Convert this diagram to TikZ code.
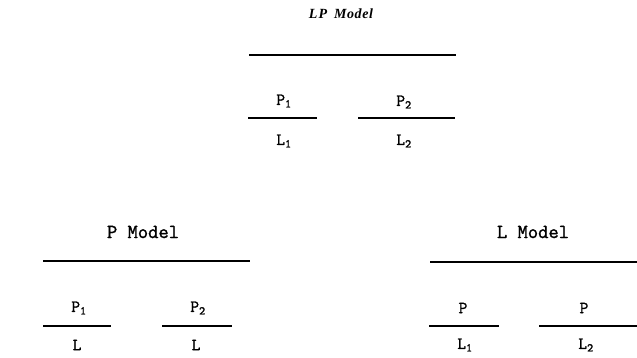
\documentclass[tikz,border=0pt]{standalone}
\usepackage{fontspec}
\newfontfamily\cmono[FakeBold=1.3]{Latin Modern Mono}
\newfontfamily\serifit{Liberation Serif}
\tikzset{
  bar/.style={line width=1.5pt},
  lab/.style={font=\cmono\fontsize{20}{20}\selectfont, inner sep=0pt},
  sym/.style={font=\cmono\fontsize{17}{17}\selectfont, inner sep=0pt},
  ttl/.style={font=\serifit\bfseries\itshape\fontsize{14}{14}\selectfont, inner sep=0pt},
}
\newcommand{\sub}[1]{\textsubscript{#1}}
\begin{document}
\begin{tikzpicture}[x=1pt,y=-1pt]
\useasboundingbox (0,0) rectangle (637,358);
% LP model
\node[ttl] (t1) at (341,14) {L\kern1pt P\ \ M\kern0.6pt o\kern0.6pt d\kern0.6pt e\kern0.6pt l};
\coordinate (a1) at (249,55); \coordinate (a2) at (456,55);
\draw[bar] (a1) -- (a2);
\coordinate (b1) at (248,118); \coordinate (b2) at (317,118);
\coordinate (c1) at (358,118); \coordinate (c2) at (455,118);
\draw[bar] (b1) -- (b2);
\draw[bar] (c1) -- (c2);
\node[sym] (p1) at (284,101) {P\sub{1}};
\node[sym] (l1) at (284,141) {L\sub{1}};
\node[sym] (p2) at (404,102) {P\sub{2}};
\node[sym] (l2) at (404,141) {L\sub{2}};
% P model
\node[lab] (t2) at (143,232) {P Model};
\coordinate (d1) at (43,261); \coordinate (d2) at (250,261);
\draw[bar] (d1) -- (d2);
\coordinate (e1) at (43,326); \coordinate (e2) at (111,326);
\coordinate (f1) at (162,326); \coordinate (f2) at (232,326);
\draw[bar] (e1) -- (e2);
\draw[bar] (f1) -- (f2);
\node[sym] (pp1) at (79,308) {P\sub{1}};
\node[sym] (pl1) at (77,345) {L};
\node[sym] (pp2) at (198,308) {P\sub{2}};
\node[sym] (pl2) at (196,345) {L};
% L model
\node[lab] (t3) at (533,232) {L Model};
\coordinate (g1) at (430,262); \coordinate (g2) at (637,262);
\draw[bar] (g1) -- (g2);
\coordinate (h1) at (429,326); \coordinate (h2) at (499,326);
\coordinate (k1) at (539,326); \coordinate (k2) at (637,326);
\draw[bar] (h1) -- (h2);
\draw[bar] (k1) -- (k2);
\node[sym] (lp1) at (463,308) {P};
\node[sym] (ll1) at (465,345) {L\sub{1}};
\node[sym] (lp2) at (584,308) {P};
\node[sym] (ll2) at (586,345) {L\sub{2}};
\end{tikzpicture}
\end{document}
